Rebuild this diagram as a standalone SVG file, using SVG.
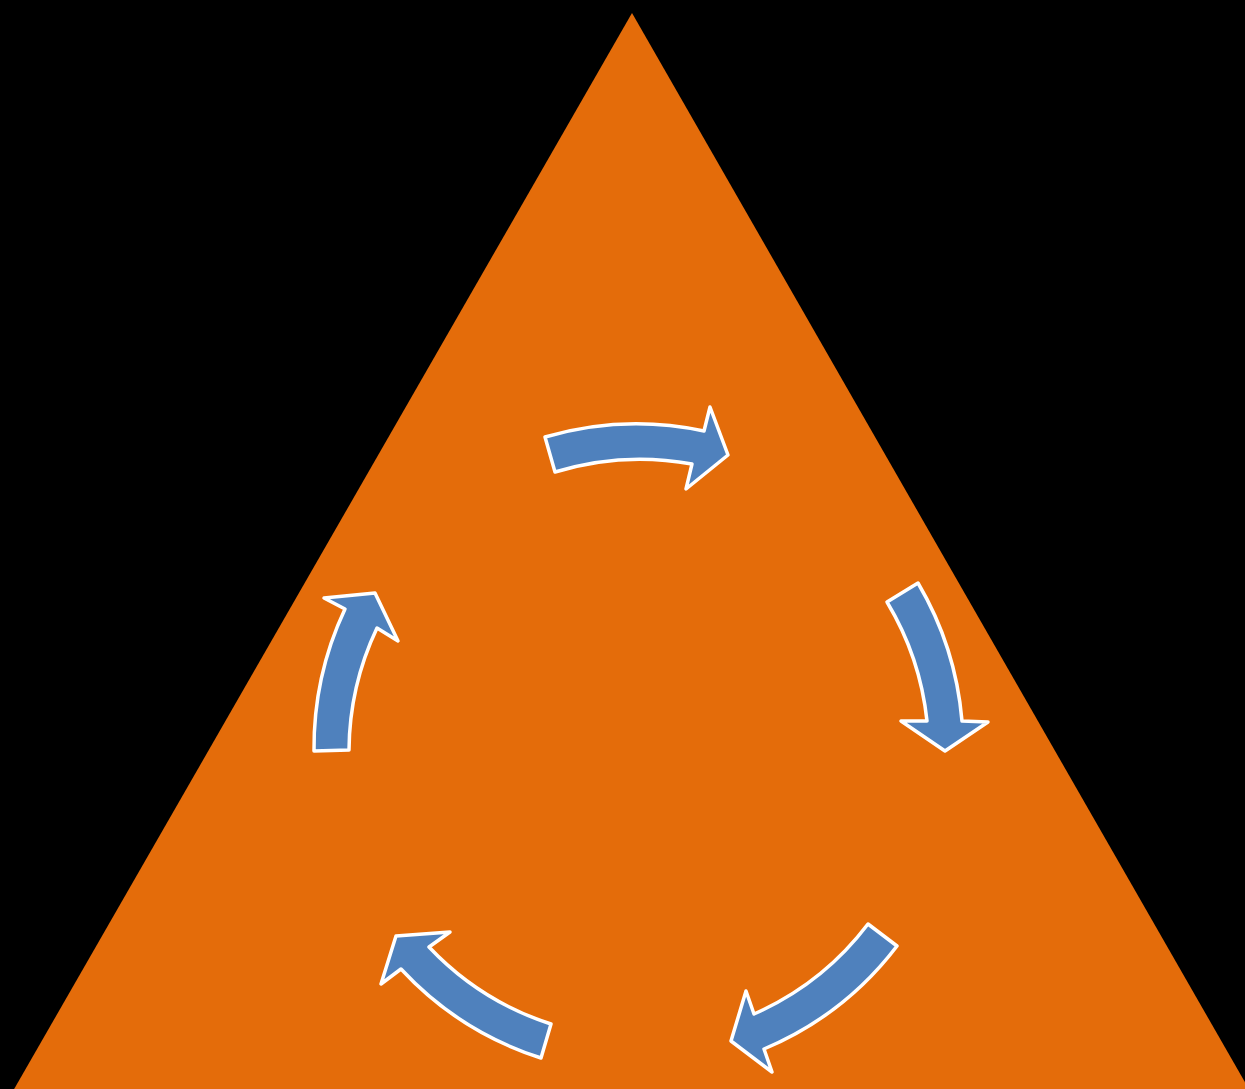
<svg xmlns="http://www.w3.org/2000/svg" width="1245" height="1089" viewBox="0 0 1245 1089">
<style>
.arrow{fill:#4F81BD;stroke:#FFFFFF;stroke-width:3.5;stroke-linejoin:round}
</style>
<rect x="0" y="0" width="1245" height="1089" fill="#000000"/>
<g id="triangle">
<polygon points="632,13 1250,1091 13,1091" fill="#E46C0A"/>
</g>
<g id="connectors">
<path id="arrow-top" class="arrow" d="M545,437 A326,326 0 0 1 704,431 L710,407 L728,455 L686,489 L692,464 A290,290 0 0 0 555,472 Z"/>
<path id="arrow-right" class="arrow" d="M918,583 A326,326 0 0 1 962,721 L988,722 L945,751 L901,721 L927,721 A290,290 0 0 0 887,602 Z"/>
<path id="arrow-bottom-right" class="arrow" d="M897,946 A326,326 0 0 1 764,1049 L772,1072 L731,1041 L746,991 L754,1014 A290,290 0 0 0 868,924 Z"/>
<path id="arrow-bottom-left" class="arrow" d="M541,1058 A326,326 0 0 1 401,969 L381,984 L396,936 L450,932 L429,947 A290,290 0 0 0 551,1024 Z"/>
<path id="arrow-left" class="arrow" d="M314,751 A326,326 0 0 1 345,609 L324,598 L375,593 L398,641 L377,628 A290,290 0 0 0 349,750 Z"/>
</g>
</svg>
